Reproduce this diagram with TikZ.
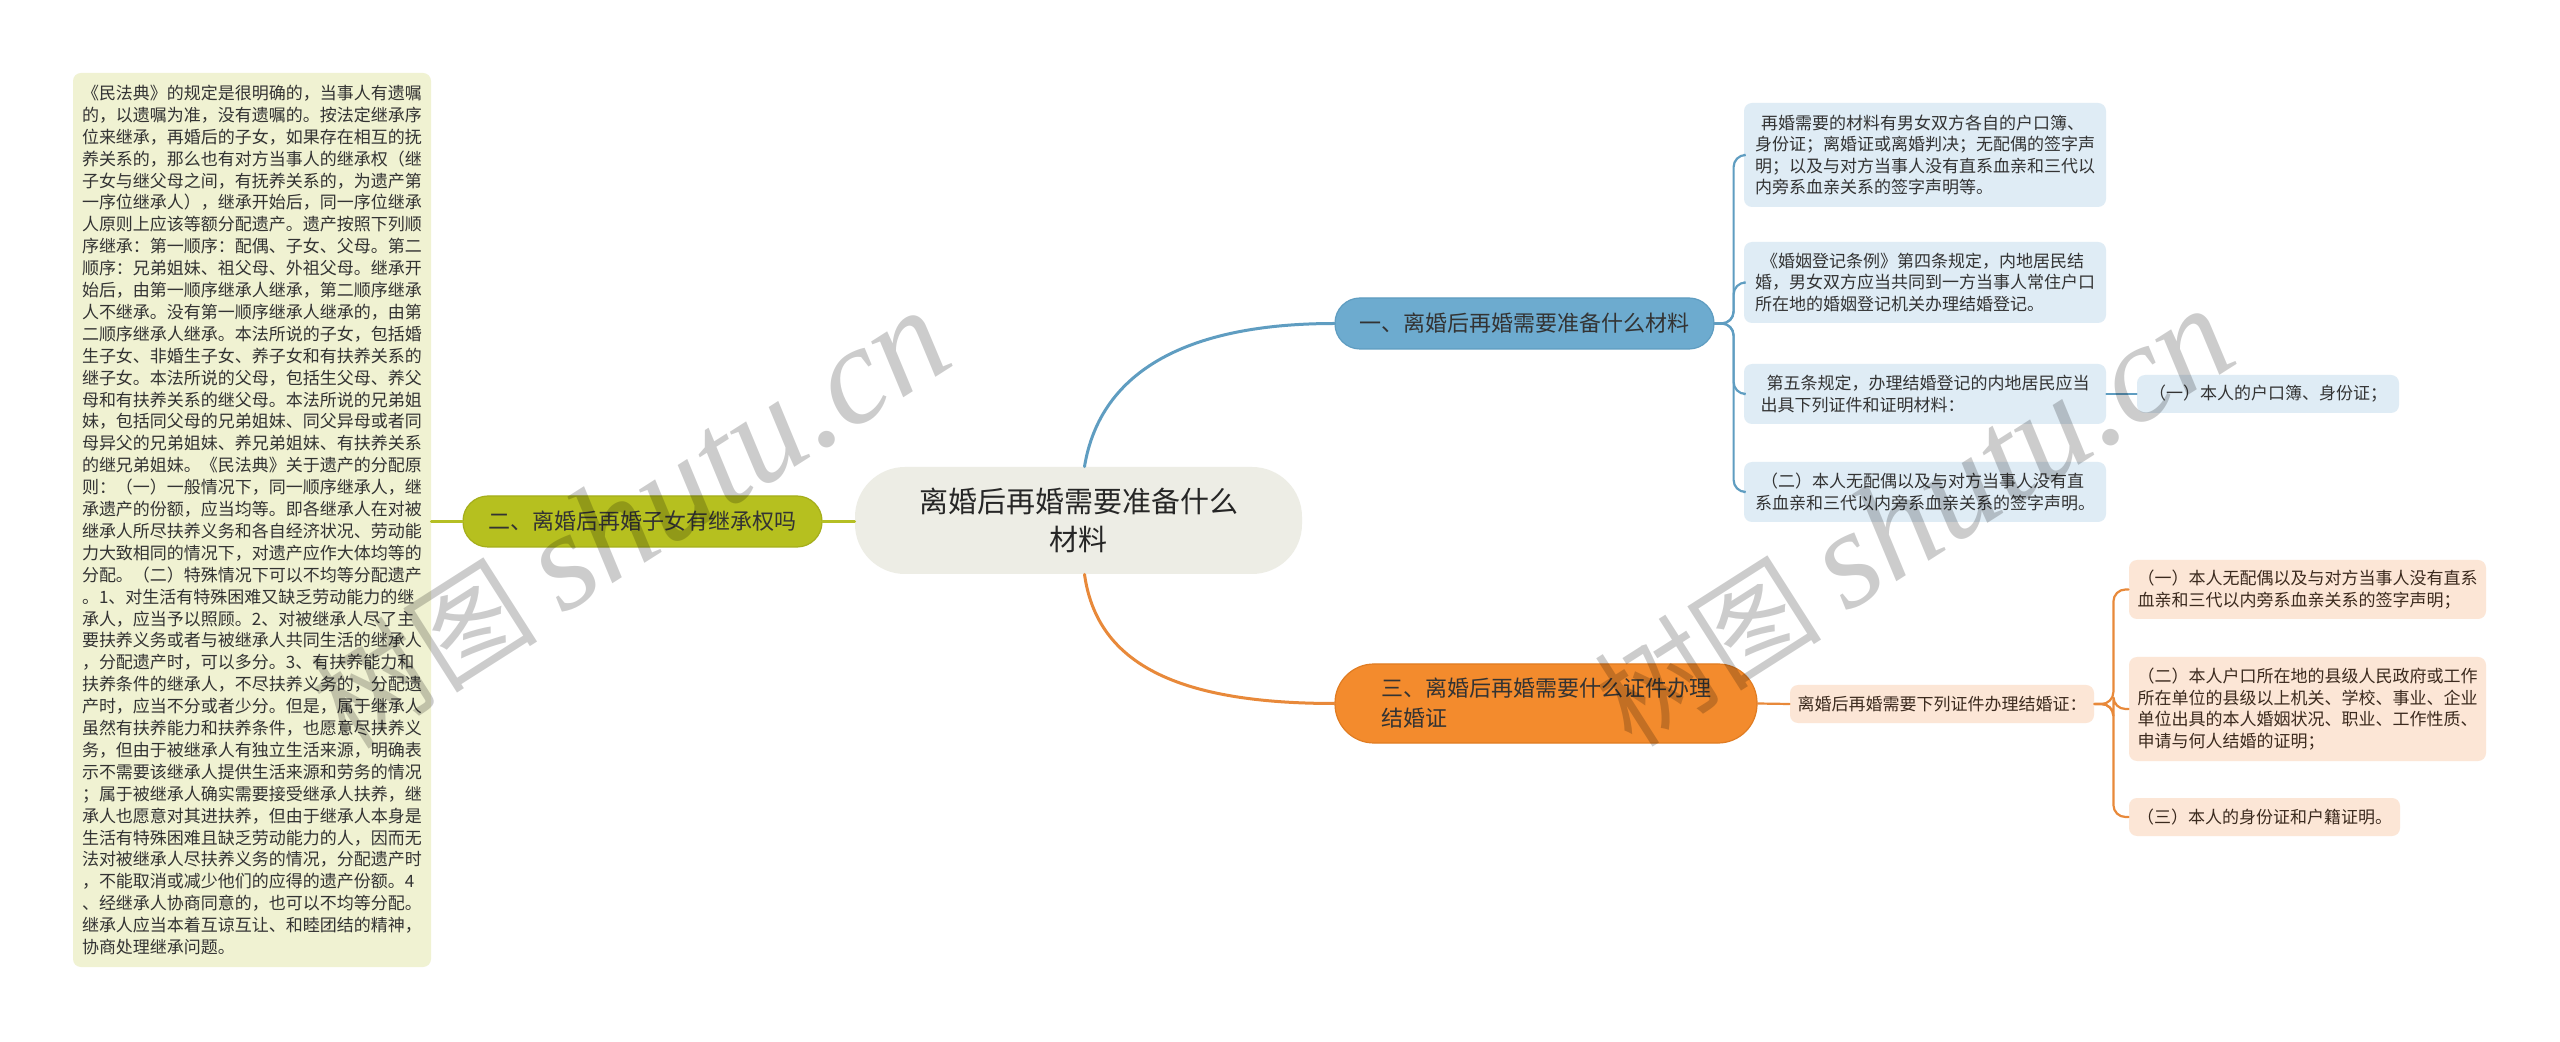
\documentclass[tikz,border=0pt]{standalone}
\usepackage{fontspec}
\setmainfont{Noto Sans CJK SC}
\newfontfamily\wmlatin{Liberation Serif}
\definecolor{cNote}{HTML}{F0F2D2}
\definecolor{cOlive}{HTML}{B6C01F}
\definecolor{cOliveDark}{HTML}{A5AE1B}
\definecolor{cOliveLine}{HTML}{B5BF24}
\definecolor{cRoot}{HTML}{EDEDE5}
\definecolor{cBlue}{HTML}{6DABCF}
\definecolor{cBlueDark}{HTML}{5F9DC1}
\definecolor{cBlueLine}{HTML}{5F9DC1}
\definecolor{cBlueFill}{HTML}{DFECF5}
\definecolor{cOrange}{HTML}{F38B2D}
\definecolor{cOrangeDark}{HTML}{E07C22}
\definecolor{cOrangeLine}{HTML}{E8893A}
\definecolor{cPeach}{HTML}{FCE6D6}
\definecolor{cText}{HTML}{333333}
\definecolor{cPeachText}{HTML}{3B2A1E}
\begin{document}
\begin{tikzpicture}[x=0.5pt,y=-0.5pt,
  leaf/.style={rounded corners=4pt, inner sep=0pt, align=left,
    font=\fontsize{8.5pt}{10.75pt}\selectfont, text=cText},
  bluebox/.style={leaf, fill=cBlueFill},
  peachbox/.style={leaf, fill=cPeach, text=cPeachText},
  notebox/.style={leaf, fill=cNote, font=\fontsize{8.5pt}{10.95pt}\selectfont},
  pill/.style={inner sep=0pt, font=\fontsize{11pt}{15pt}\selectfont, text=cText, line width=0.6pt},
  rootbox/.style={fill=cRoot, rounded corners=25pt, inner sep=0pt, align=center,
    font=\fontsize{14.5pt}{19pt}\selectfont, text=black!85},
  conn/.style={line width=1.1pt, line cap=round},
  mainconn/.style={line width=1.5pt, line cap=round},
  wm/.style={font=\fontsize{57pt}{57pt}\selectfont, text=black, text opacity=0.2, inner sep=0pt}
]
\fill[white] (0,0) rectangle (2560,1042);
\useasboundingbox (0,0) rectangle (2560,1042);

% left note
\node[notebox, minimum width=179pt, minimum height=447pt] (note) at (252,520) {《民法典》的规定是很明确的，当事人有遗嘱\\
的，以遗嘱为准，没有遗嘱的。按法定继承序\\
位来继承，再婚后的子女，如果存在相互的抚\\
养关系的，那么也有对方当事人的继承权（继\\
子女与继父母之间，有抚养关系的，为遗产第\\
一序位继承人），继承开始后，同一序位继承\\
人原则上应该等额分配遗产。遗产按照下列顺\\
序继承：第一顺序：配偶、子女、父母。第二\\
顺序：兄弟姐妹、祖父母、外祖父母。继承开\\
始后，由第一顺序继承人继承，第二顺序继承\\
人不继承。没有第一顺序继承人继承的，由第\\
二顺序继承人继承。本法所说的子女，包括婚\\
生子女、非婚生子女、养子女和有扶养关系的\\
继子女。本法所说的父母，包括生父母、养父\\
母和有扶养关系的继父母。本法所说的兄弟姐\\
妹，包括同父母的兄弟姐妹、同父异母或者同\\
母异父的兄弟姐妹、养兄弟姐妹、有扶养关系\\
的继兄弟姐妹。《民法典》关于遗产的分配原\\
则：（一）一般情况下，同一顺序继承人，继\\
承遗产的份额，应当均等。即各继承人在对被\\
继承人所尽扶养义务和各自经济状况、劳动能\\
力大致相同的情况下，对遗产应作大体均等的\\
分配。（二）特殊情况下可以不均等分配遗产\\
。1、对生活有特殊困难又缺乏劳动能力的继\\
承人，应当予以照顾。2、对被继承人尽了主\\
要扶养义务或者与被继承人共同生活的继承人\\
，分配遗产时，可以多分。3、有扶养能力和\\
扶养条件的继承人，不尽扶养义务的，分配遗\\
产时，应当不分或者少分。但是，属于继承人\\
虽然有扶养能力和扶养条件，也愿意尽扶养义\\
务，但由于被继承人有独立生活来源，明确表\\
示不需要该继承人提供生活来源和劳务的情况\\
；属于被继承人确实需要接受继承人扶养，继\\
承人也愿意对其进扶养，但由于继承人本身是\\
生活有特殊困难且缺乏劳动能力的人，因而无\\
法对被继承人尽扶养义务的情况，分配遗产时\\
，不能取消或减少他们的应得的遗产份额。4\\
、经继承人协商同意的，也可以不均等分配。\\
继承人应当本着互谅互让、和睦团结的精神，\\
协商处理继承问题。};

% branches
\node[pill, fill=cOlive, draw=cOliveDark, rounded corners=12.5pt, minimum width=179.5pt, minimum height=25.5pt] (b2) at (642.5,521.5) {二、离婚后再婚子女有继承权吗};
\node[rootbox, minimum width=223.5pt, minimum height=53.5pt] (root) at (1078.5,520.5) {离婚后再婚需要准备什么\\材料};
\node[pill, fill=cBlue, draw=cBlueDark, rounded corners=12.5pt, minimum width=189.5pt, minimum height=25.5pt] (b1) at (1524.5,323.5) {一、离婚后再婚需要准备什么材料};
\node[pill, fill=cOrange, draw=cOrangeDark, rounded corners=19.5pt, minimum width=211pt, minimum height=39.5pt, align=left] (b3) at (1546,703.5) {三、离婚后再婚需要什么证件办理\\结婚证};

% blue children
\node[bluebox, minimum width=181pt, minimum height=52pt] (m1) at (1925,155) {\hspace{3pt}再婚需要的材料有男女双方各自的户口簿、\\
身份证；离婚证或离婚判决；无配偶的签字声\\
明；以及与对方当事人没有直系血亲和三代以\\
内旁系血亲关系的签字声明等。};
\node[bluebox, minimum width=181pt, minimum height=40.5pt] (m2) at (1925,282.5) {\hspace{3pt}《婚姻登记条例》第四条规定，内地居民结\\
婚，男女双方应当共同到一方当事人常住户口\\
所在地的婚姻登记机关办理结婚登记。};
\node[bluebox, minimum width=181pt, minimum height=30pt] (m3) at (1925,394) {\hspace{3pt}第五条规定，办理结婚登记的内地居民应当\\
出具下列证件和证明材料：};
\node[bluebox, minimum width=181pt, minimum height=30pt] (m4) at (1925,492) {\hspace{3pt}（二）本人无配偶以及与对方当事人没有直\\
系血亲和三代以内旁系血亲关系的签字声明。};
\node[bluebox, minimum width=131pt, minimum height=19pt] (m5) at (2268,394) {（一）本人的户口簿、身份证；};

% peach children
\node[peachbox, minimum width=152pt, minimum height=19pt] (p0) at (1942,704) {离婚后再婚需要下列证件办理结婚证：};
\node[peachbox, minimum width=178.5pt, minimum height=29.5pt] (p1) at (2307.5,589.5) {（一）本人无配偶以及与对方当事人没有直系\\
血亲和三代以内旁系血亲关系的签字声明；};
\node[peachbox, minimum width=178.5pt, minimum height=52pt] (p2) at (2307.5,709) {（二）本人户口所在地的县级人民政府或工作\\
所在单位的县级以上机关、学校、事业、企业\\
单位出具的本人婚姻状况、职业、工作性质、\\
申请与何人结婚的证明；};
\node[peachbox, minimum width=135.5pt, minimum height=19pt] (p3) at (2264.5,817) {（三）本人的身份证和户籍证明。};

% connectors
\draw[mainconn, cOliveLine] (b2.west) -- (b2.west -| note.east);
\draw[mainconn, cOliveLine] (b2.east) -- (b2.east -| root.west);
\draw[mainconn, cBlueLine] ([xshift=3pt]root.north) .. controls +(16,-97) and +(-145,0) .. (b1.west);
\draw[mainconn, cOrangeLine] ([xshift=3pt]root.south) .. controls +(12,85) and +(-165,0) .. (b3.west);
\foreach \c in {m1,m2,m3,m4}
  \draw[conn, cBlueLine, rounded corners=6pt] (b1.east) -- ++(19,0) |- (\c.west);
\draw[conn, cBlueLine] (m3.east) -- (m5.west);
\draw[conn, cOrangeLine] (b3.east) -- (p0.west);
\foreach \c in {p1,p2,p3}
  \draw[conn, cOrangeLine, rounded corners=6pt] (p0.east) -- ++(19,0) |- (\c.west);

% watermarks
\node[wm, rotate=32.5] (wm1) at (630,520) {树图 {\wmlatin\itshape\fontsize{70pt}{70pt}\selectfont shutu.cn}};
\node[wm, rotate=32.5] (wm2) at (1914,518) {树图 {\wmlatin\itshape\fontsize{70pt}{70pt}\selectfont shutu.cn}};
\end{tikzpicture}
\end{document}
